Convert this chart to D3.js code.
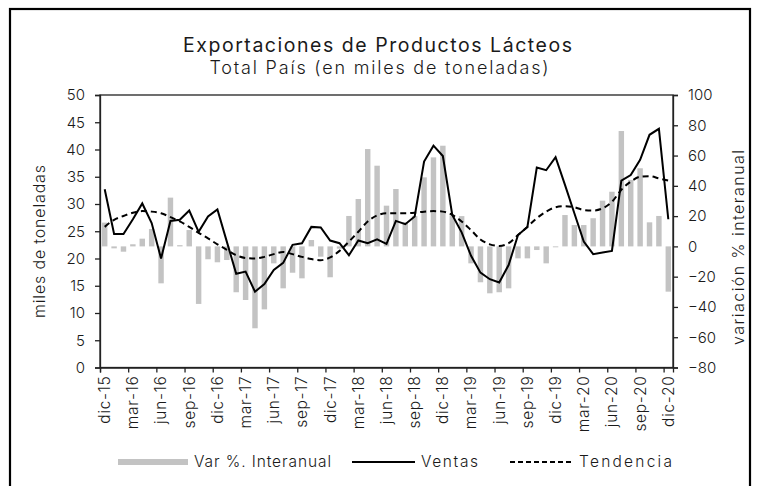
<!DOCTYPE html>
<html>
<head>
<meta charset="utf-8">
<script src="https://cdn.jsdelivr.net/npm/d3@7"></script>
<style>
  body { margin: 0; background: #fff; }
  svg { display: block; }
  text { font-family: Inter, "Open Sans", sans-serif; fill: #1a1a1a; }
</style>
</head>
<body>
<svg id="chart" width="759" height="486"></svg>
<script>
// Monthly categories, Dec 2015 to Dec 2020
const meses = [
  "dic-15",
  "ene-16","feb-16","mar-16","abr-16","may-16","jun-16","jul-16","ago-16","sep-16","oct-16","nov-16","dic-16",
  "ene-17","feb-17","mar-17","abr-17","may-17","jun-17","jul-17","ago-17","sep-17","oct-17","nov-17","dic-17",
  "ene-18","feb-18","mar-18","abr-18","may-18","jun-18","jul-18","ago-18","sep-18","oct-18","nov-18","dic-18",
  "ene-19","feb-19","mar-19","abr-19","may-19","jun-19","jul-19","ago-19","sep-19","oct-19","nov-19","dic-19",
  "ene-20","feb-20","mar-20","abr-20","may-20","jun-20","jul-20","ago-20","sep-20","oct-20","nov-20","dic-20"
];

// Exports (thousand tonnes)
const ventas = [
  32.7, 24.5, 24.5, 27.2, 30.1, 26.5, 20.0, 26.9, 27.1, 28.8, 24.9, 27.7, 29.0,
  23.1, 17.2, 17.6, 13.9, 15.3, 17.9, 19.2, 22.5, 22.8, 25.8, 25.7, 23.3,
  22.8, 20.6, 23.3, 22.8, 23.5, 22.7, 26.9, 26.3, 27.7, 37.8, 40.7, 38.8,
  28.0, 24.8, 20.5, 17.4, 16.2, 15.6, 18.8, 24.3, 25.8, 36.7, 36.2, 38.6,
  33.5, 28.3, 23.1, 20.8, 21.1, 21.4, 34.3, 35.3, 38.1, 42.7, 43.8, 27.2
];

// Trend component (thousand tonnes)
const tendencia = [
  25.8, 27.1, 27.8, 28.4, 28.7, 28.6, 28.3, 27.6, 26.8, 25.8, 24.7, 23.7, 22.6,
  21.6, 20.6, 20.1, 20.0, 20.3, 20.8, 21.2, 20.8, 20.3, 19.9, 19.7, 20.2,
  21.4, 23.1, 24.9, 26.8, 27.9, 28.3, 28.3, 28.3, 28.4, 28.6, 28.7, 28.6,
  28.0, 26.8, 25.2, 23.5, 22.6, 22.3, 22.8, 24.3, 25.8, 27.4, 28.6, 29.4,
  29.6, 29.4, 28.9, 28.8, 29.2, 30.4, 32.6, 34.1, 35.0, 35.1, 34.7, 34.3
];

// Year-on-year change (%)
const varInteranual = [
  15.7, -1.3, -3.5, 1.4, 5.1, 11.5, -24.4, 32.2, 0.8, 10.8, -38.0, -8.5, -10.5,
  -9.0, -30.3, -35.4, -54.1, -41.6, -11.2, -27.7, -17.4, -21.1, 4.2, -6.8, -20.4,
  -1.5, 20.1, 31.3, 64.3, 53.3, 26.9, 37.9, 16.0, 20.0, 45.6, 58.8, 66.5,
  20.5, 20.0, -11.2, -23.7, -31.0, -30.3, -27.7, -7.9, -7.9, -2.4, -11.2, -0.6,
  20.7, 14.1, 14.1, 18.6, 30.2, 36.1, 76.2, 43.9, 51.6, 15.9, 20.1, -29.9
];

const ticksIzq = d3.range(0, 51, 5);
const ticksDer = d3.range(-80, 101, 20);

const svg = d3.select("#chart");
const plot = { left: 100, right: 673, top: 95, bottom: 367.5 };

// outer frame
svg.append("rect")
  .attr("x", 10).attr("y", 9).attr("width", 740).attr("height", 490)
  .attr("fill", "none").attr("stroke", "#000").attr("stroke-width", 2.2);

// titles
svg.append("text").attr("x", 377.5).attr("y", 52).attr("text-anchor", "middle")
  .attr("textLength", 389).attr("lengthAdjust", "spacing")
  .style("font-size", "19.5px").style("font-weight", 400)
  .text("Exportaciones de Productos Lácteos");
svg.append("text").attr("x", 379).attr("y", 74).attr("text-anchor", "middle")
  .attr("textLength", 339).attr("lengthAdjust", "spacing")
  .style("font-size", "18px").style("font-weight", 300)
  .text("Total País (en miles de toneladas)");

const x = d3.scaleBand().domain(meses).range([plot.left, plot.right]).padding(0);
const xi = d3.scaleLinear().domain([0, meses.length]).range([plot.left, plot.right]);
const yL = d3.scaleLinear().domain([0, 50]).range([plot.bottom, plot.top]);
const yR = d3.scaleLinear().domain([-80, 100]).range([plot.bottom, plot.top]);

// bars: year-on-year change
const bw = x.bandwidth() * 0.58;
svg.append("g").selectAll("rect").data(varInteranual).join("rect")
  .attr("x", (d, i) => x(meses[i]) + (x.bandwidth() - bw) / 2)
  .attr("width", bw)
  .attr("y", d => yR(Math.max(0, d)))
  .attr("height", d => Math.abs(yR(d) - yR(0)))
  .attr("fill", "#c3c3c3");

// trend line (dashed)
const lineT = d3.line().x((d, i) => x(meses[i]) + x.bandwidth() / 2).y(d => yL(d)).curve(d3.curveMonotoneX);
svg.append("path").datum(tendencia).attr("d", lineT)
  .attr("fill", "none").attr("stroke", "#000").attr("stroke-width", 2)
  .attr("stroke-dasharray", "6,4");

// sales line
const lineV = d3.line().x((d, i) => x(meses[i]) + x.bandwidth() / 2).y(d => yL(d));
svg.append("path").datum(ventas).attr("d", lineV)
  .attr("fill", "none").attr("stroke", "#000").attr("stroke-width", 2)
  .attr("stroke-linejoin", "miter");

// plot frame
svg.append("rect")
  .attr("x", plot.left).attr("y", plot.top)
  .attr("width", plot.right - plot.left).attr("height", plot.bottom - plot.top)
  .attr("fill", "none").attr("stroke", "#222").attr("stroke-width", 1.3);

// left axis
const gL = svg.append("g").attr("transform", `translate(${plot.left},0)`)
  .call(d3.axisLeft(yL).tickValues(ticksIzq).tickSize(5).tickPadding(10));
// right axis
const gR = svg.append("g").attr("transform", `translate(${plot.right},0)`)
  .call(d3.axisRight(yR).tickValues(ticksDer).tickSize(5).tickPadding(10));
// bottom tick marks between categories
const gB = svg.append("g").attr("transform", `translate(0,${plot.bottom})`)
  .call(d3.axisBottom(xi).tickValues(d3.range(0, meses.length, 3)).tickFormat("").tickSize(5));
// bottom labels, rotated
const gX = svg.append("g").attr("transform", `translate(0,${plot.bottom})`)
  .call(d3.axisBottom(x).tickValues(meses.filter((d, i) => i % 3 === 0)).tickSize(0));

[gL, gR, gB, gX].forEach(g => {
  g.select(".domain").attr("stroke", "#222").attr("stroke-width", 1.3);
  g.selectAll(".tick line").attr("stroke", "#222").attr("stroke-width", 1.3);
  g.selectAll("text").style("font-family", "Inter, sans-serif").style("font-size", "15px")
    .style("font-weight", 300).attr("fill", "#1a1a1a");
});
gX.select(".domain").remove();
gX.selectAll("text")
  .attr("transform", "rotate(-90)")
  .attr("text-anchor", "end")
  .attr("x", -8).attr("y", 0).attr("dy", "0.35em")
  .style("font-size", "15.5px").style("letter-spacing", "0.7px");

// axis titles
svg.append("text").attr("transform", "translate(45,241.5) rotate(-90)")
  .attr("text-anchor", "middle").attr("textLength", 153).attr("lengthAdjust", "spacing")
  .style("font-size", "16px").style("font-weight", 300)
  .text("miles de toneladas");
svg.append("text").attr("transform", "translate(744,247.5) rotate(-90)")
  .attr("text-anchor", "middle").attr("textLength", 195).attr("lengthAdjust", "spacing")
  .style("font-size", "16px").style("font-weight", 300)
  .text("variación % interanual");

// legend
const lg = svg.append("g").attr("transform", "translate(0,462)");
lg.append("rect").attr("x", 118).attr("y", -3).attr("width", 70).attr("height", 6).attr("fill", "#c3c3c3");
lg.append("text").attr("x", 194).attr("y", 0).attr("dy", "0.35em")
  .attr("textLength", 137).attr("lengthAdjust", "spacing")
  .style("font-size", "15.5px").style("font-weight", 300).text("Var %. Interanual");
lg.append("line").attr("x1", 352).attr("x2", 415).attr("y1", 0).attr("y2", 0)
  .attr("stroke", "#000").attr("stroke-width", 2);
lg.append("text").attr("x", 421).attr("y", 0).attr("dy", "0.35em")
  .attr("textLength", 57).attr("lengthAdjust", "spacing")
  .style("font-size", "15.5px").style("font-weight", 300).text("Ventas");
lg.append("line").attr("x1", 510).attr("x2", 573).attr("y1", 0).attr("y2", 0)
  .attr("stroke", "#000").attr("stroke-width", 2).attr("stroke-dasharray", "5,3");
lg.append("text").attr("x", 579).attr("y", 0).attr("dy", "0.35em")
  .attr("textLength", 93).attr("lengthAdjust", "spacing")
  .style("font-size", "15.5px").style("font-weight", 300).text("Tendencia");
</script>
</body>
</html>
